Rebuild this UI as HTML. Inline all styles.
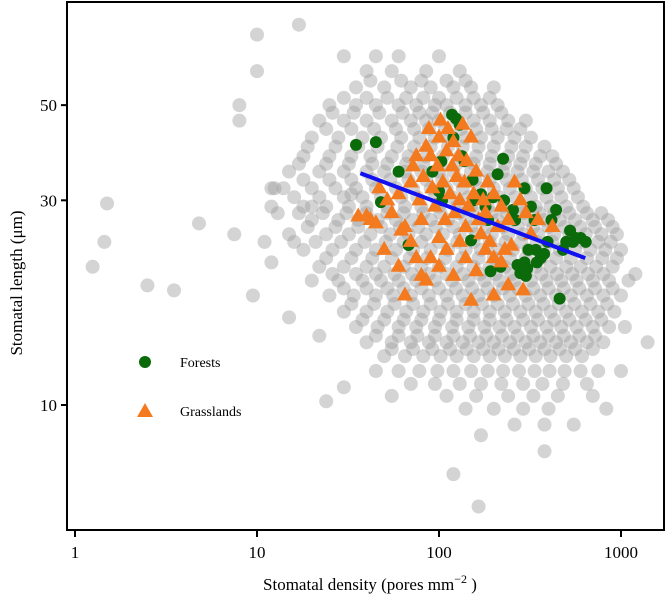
<!DOCTYPE html>
<html><head><meta charset="utf-8"><style>
body{margin:0;background:#fff}
svg text{font-family:"Liberation Serif",serif;fill:#000}
</style></head><body>
<svg id="chart" width="668" height="599" viewBox="0 0 668 599" xmlns="http://www.w3.org/2000/svg">
<g id="gray"></g>
<g id="green"></g>
<g id="orange"></g>
<g id="fit"></g>
<rect x="67" y="2" width="597" height="528" fill="none" stroke="#000" stroke-width="2"/>
<g id="axes"></g>
<text x="370" y="590" font-size="17" text-anchor="middle">Stomatal density (pores  mm<tspan dy="-7" font-size="12">−2</tspan><tspan dy="7"> )</tspan></text>
<text transform="translate(22,283) rotate(-90)" font-size="17" text-anchor="middle">Stomatal length (μm)</text>
<g>
<circle cx="145" cy="362" r="6" fill="#0b6b0b"/>
<text x="180" y="367" font-size="14">Forests</text>
<polygon points="145,403 153,417 137,417" fill="#f47a20"/>
<text x="180" y="416" font-size="14">Grasslands</text>
</g>
</svg>
<script>
const xTicks=[1,10,100,1000];
const xTickLabels=["1","10","100","1000"];
const yTicks=[10,30,50];
const yTickLabels=["10","30","50"];
const grayRows=[
[65,[60,45,100,30]],[60,[40,55,85,130,10]],[55,[35,50,70,90,120,150,200]],
[50,[25,35,45,60,75,95,110,140,170,210,8]],[46,[22,30,40,55,70,85,100,125,155,190,240,300]],
[42,[20,28,38,48,62,78,95,115,140,170,210,260,320]],
[38,[18,25,33,42,55,68,85,105,130,160,195,240,290,360,420]],
[35,[15,22,30,40,50,65,80,100,120,150,185,225,270,330,400,480]],
[32,[14,20,27,35,45,58,72,90,110,135,165,200,245,300,370,450,550,12]],
[29,[12,18,24,32,40,52,65,80,100,125,150,185,225,275,340,410,500,620]],
[27,[20,28,36,46,58,72,90,112,140,170,210,255,310,380,460,560,700,850]],
[25,[15,24,32,42,54,68,85,105,130,160,195,240,290,350,430,520,640,780,950]],
[23,[18,26,35,45,58,72,90,112,140,170,210,255,310,380,460,560,680,820,1000]],
[21,[22,30,40,50,64,80,100,125,155,190,230,280,340,410,500,600,730,900]],
[19.5,[20,28,38,48,60,75,95,118,145,178,215,260,320,390,470,570,700,860,1100]],
[18,[25,34,45,56,70,88,110,135,165,200,245,300,360,440,530,650,800,1000]],
[16.5,[30,40,52,66,82,102,125,155,190,230,280,340,410,500,610,750,920]],
[15.2,[35,46,60,75,95,118,145,178,215,260,320,390,470,570,700,860,1050]],
[14,[40,55,70,88,110,135,165,200,245,300,360,440,530,650,800,1400]],
[13,[50,65,82,102,125,155,190,230,280,340,410,500,610]],
[12,[45,60,78,98,120,150,185,225,275,335,405,490,600,750,1000]],
[11.2,[70,95,130,170,220,290,370,480,650]],[10.5,[55,110,160,240,330,450,700]],
[9.8,[140,200,290,400,830]],[9,[260,380,550]],[8.5,[170]],[7.8,[380]],[6.9,[120]],[5.8,[165]],
[57,[42,62,80,110,140]],[52,[30,40,52,66,82,100,125,155,190]],[48,[26,34,47,63,78,92,115,140,175,220]],
[44,[24,33,44,58,73,88,108,132,160,195,235,280]],[40,[19,27,36,46,59,73,90,112,135,165,200,250,300,380]],
[36.5,[17,24,32,43,52,66,82,102,125,155,190,230,280,340,440]],
[33.5,[18,25,33,43,54,68,85,104,128,158,190,235,285,350,430,520]],
[30.5,[16,22,30,38,48,62,76,95,118,145,175,215,262,320,390,470,580]],
[28,[17,23,31,40,52,64,82,102,128,158,195,235,290,355,430,520,650,780]],
[26,[19,27,36,48,61,77,96,120,150,185,225,270,330,400,490,600,720,900]],
[24,[21,29,39,51,64,80,100,126,155,190,232,282,345,420,510,620,750,880]],
[22,[24,33,43,55,69,86,108,134,165,200,245,300,365,440,530,650,790,950]],
[20.2,[26,35,45,57,71,88,110,136,168,205,250,300,365,445,540,660,800,1200]],
[18.7,[30,40,52,64,80,100,124,152,185,225,272,330,400,485,590,720,900]],
[17.2,[33,44,57,72,90,112,140,172,210,255,310,375,455,555,680,840]],
[15.8,[38,50,64,80,100,125,155,190,235,290,350,430,520,640,780]],
[14.5,[45,60,76,95,120,148,182,222,270,330,400,485,590,720]],
[13.5,[55,72,92,115,142,175,212,258,312,380,460,560,700]]
];
const grayExtra=[[1.25,21],[1.45,24],[1.5,29.5],[2.5,19],[3.5,18.5],[4.8,26.5],[7.5,25],[8,46],[9.5,18],[10,73],[11,24],[12,21.5],[12.5,32],[13,28],[15,16],[16,24],[17,77],[20,29],[22,14.5],[24,10.2],[30,11],[33,31]];
const forestDensity=[35,45,48,60,68,100,104,118,124,130,134,138,153,170,180,186,198,210,225,228,255,262,295,320,335,340,345,362,378,395,415,440,480,500,525,545,565,600,640,390,310,218,192,150,460,120,103,92,155,270,290,280,300,285,305,295];
const forestLength=[40.4,41,29.7,35,23.6,31.5,30,47.5,46.5,45,38,37,33.5,31,29,27,30.5,34.5,37.5,30,28.5,27,32,29,27,23,21.5,22,22.5,24,27,28.5,23,24,25.5,24,24.5,24.5,24,32,23,21,20.5,24.2,17.7,42,37,35,30,21.2,20.5,20.3,20,21,20.8,21.5];
const grassDensity=[36,40,42,45,47,52,55,60,62,65,70,72,75,78,80,82,85,88,90,92,95,98,100,102,105,108,110,112,115,118,120,122,125,128,130,135,138,140,142,145,150,155,160,165,170,175,180,185,190,200,210,220,230,240,260,280,300,320,350,420,90,100,110,80,75,85,65,120,140,160,180,200,220,240,290,200,70,60,50,100,130,250,150];
const grassLength=[27.5,27.5,27,26.5,32,30,28,31,25.5,26,33,36,38,30,27,34,40,44,38,32,29,36,42,46,33,27,39,44,31,36,41,28,34,38,30,45,33,26,37,29,42,31,35,27,25,30,28,33,24,31,26,29,23,27,33,30,28,25,27,26,22,21,23,20,22,19.5,18,20,22,20.5,23,22,21.5,19,18.5,18,24,21,23,24.5,24,23.5,17.5];
const fitDensity=[37,636];
const fitLength=[34.7,22];

const NS="http://www.w3.org/2000/svg";
function xs(d){return 75+182*Math.log10(d);}
function ys(l){return 405-429*Math.log10(l/10);}
function mk(t,a,p){const e=document.createElementNS(NS,t);for(const k in a)e.setAttribute(k,a[k]);p.appendChild(e);return e;}
const gG=document.getElementById('gray');
const grayPts=[];
grayRows.forEach(r=>r[1].forEach(d=>grayPts.push([d,r[0]])));
grayExtra.forEach(p=>grayPts.push(p));
grayPts.forEach(p=>{
 const c=mk('circle',{cx:xs(p[0]),cy:ys(p[1]),r:7,fill:'#a0a0a0','fill-opacity':0.45},gG);
 
 
});
const gF=document.getElementById('green');
forestDensity.forEach((d,i)=>{
 const c=mk('circle',{cx:xs(d),cy:ys(forestLength[i]),r:6,fill:'#0b6b0b'},gF);
 
 
});
const gO=document.getElementById('orange');
grassDensity.forEach((d,i)=>{
 const x=xs(d),y=ys(grassLength[i]);
 const t=mk('polygon',{points:`${x},${y-9} ${x+8},${y+5} ${x-8},${y+5}`,fill:'#f47a20'},gO);
 
 
});
const fl=mk('line',{x1:xs(fitDensity[0]),y1:ys(fitLength[0]),x2:xs(fitDensity[1]),y2:ys(fitLength[1]),stroke:'#1010f0','stroke-width':4},document.getElementById('fit'));


const ax=document.getElementById('axes');
xTicks.forEach((v,i)=>{
 const x=xs(v);
 const l=mk('line',{x1:x,y1:530,x2:x,y2:537,stroke:'#000','stroke-width':2},ax);
 
 
 const t=mk('text',{x:x,y:558,'font-size':17,'text-anchor':'middle'},ax);
 t.textContent=xTickLabels[i];
 
 
});
yTicks.forEach((v,i)=>{
 const y=ys(v);
 const l=mk('line',{x1:61,y1:y,x2:67,y2:y,stroke:'#000','stroke-width':2},ax);
 
 
 const t=mk('text',{x:57,y:y+6,'font-size':17,'text-anchor':'end'},ax);
 t.textContent=yTickLabels[i];
 
 
});
</script>
</body></html>
